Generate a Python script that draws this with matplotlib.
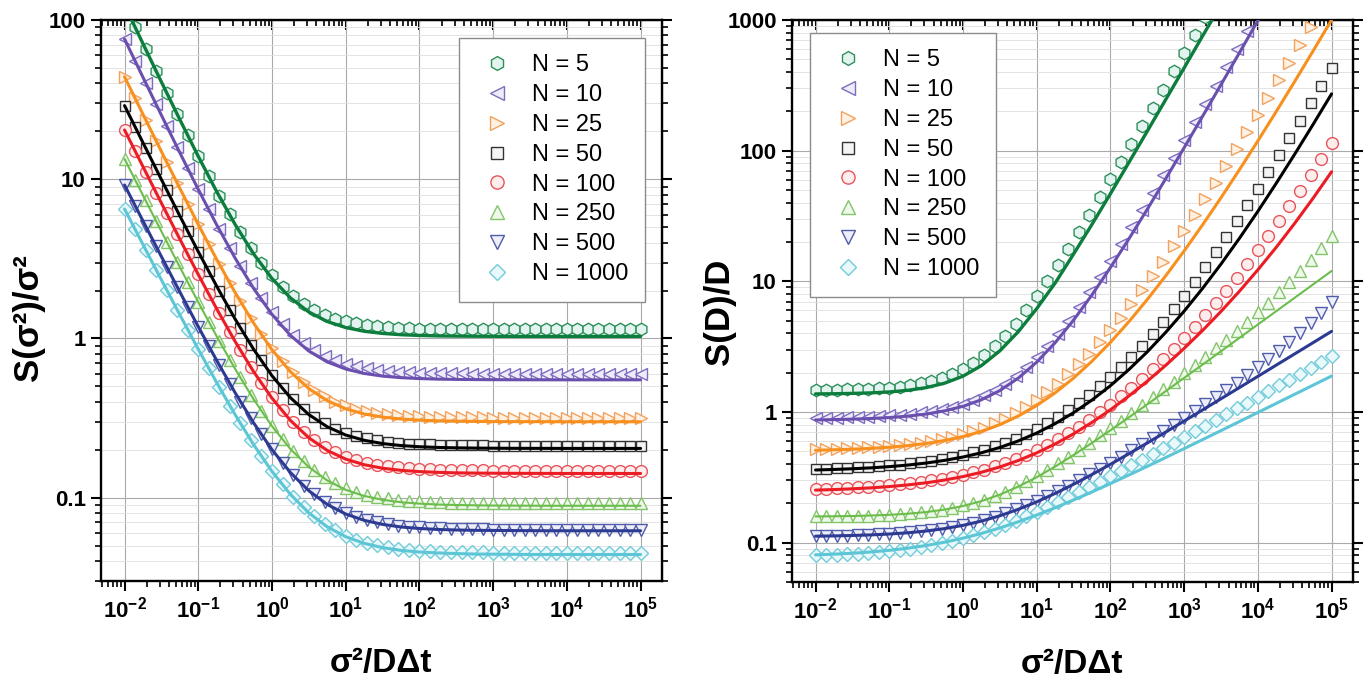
import numpy as np
import matplotlib
matplotlib.use("Agg")
import matplotlib.pyplot as plt
from matplotlib.lines import Line2D
from matplotlib.ticker import LogLocator, NullFormatter, FixedLocator

plt.rcParams['font.family'] = ['Liberation Sans', 'DejaVu Sans']
plt.rcParams['mathtext.fontset'] = 'custom'
plt.rcParams['mathtext.rm'] = 'Liberation Sans'
plt.rcParams['mathtext.bf'] = 'Liberation Sans:bold'

# ---------------- data ----------------
N_values = [5, 10, 25, 50, 100, 250, 500, 1000]
x_pts = np.logspace(-2, 5, 50)     # simulation sampling positions
x_fit = np.logspace(-2, 5, 29)     # theory curve sampling positions

# Left panel: S(sigma^2)/sigma^2 simulation points
sig_pts_N5 = [124.2, 90.3, 65.7, 47.9, 35.0, 25.7, 18.9, 14.03, 10.48, 7.90, 6.04, 4.69, 3.71, 3.00,
              2.49, 2.12, 1.85, 1.65, 1.51, 1.41, 1.335, 1.281, 1.242, 1.214, 1.194, 1.179, 1.168, 1.160,
              1.155, 1.151, 1.148, 1.146, 1.144, 1.143, 1.142, 1.142, 1.141, 1.141, 1.141, 1.140, 1.140, 1.140,
              1.14, 1.14, 1.14, 1.14, 1.14, 1.14, 1.14, 1.14]
sig_pts_N10 = [76.0, 55.4, 40.4, 29.5, 21.6, 15.9, 11.7, 8.68, 6.47, 4.87, 3.70, 2.855, 2.239, 1.791,
               1.466, 1.229, 1.058, 0.933, 0.842, 0.776, 0.728, 0.693, 0.667, 0.649, 0.636, 0.626, 0.619, 0.614,
               0.610, 0.607, 0.605, 0.604, 0.603, 0.602, 0.601, 0.600, 0.600, 0.600, 0.600, 0.600, 0.600, 0.600,
               0.600, 0.600, 0.600, 0.600, 0.600, 0.600, 0.600, 0.600]
sig_pts_N25 = [44.0, 32.3, 23.7, 17.4, 12.83, 9.48, 7.02, 5.22, 3.90, 2.94, 2.237, 1.722, 1.345, 1.069,
               0.868, 0.720, 0.612, 0.533, 0.476, 0.433, 0.402, 0.380, 0.363, 0.351, 0.342, 0.336, 0.331, 0.328,
               0.325, 0.323, 0.322, 0.321, 0.320, 0.3195, 0.319, 0.318, 0.318, 0.318, 0.318, 0.318, 0.318, 0.318,
               0.318, 0.318, 0.318, 0.318, 0.318, 0.318, 0.318, 0.318]
sig_pts_N50 = [29.0, 21.34, 15.72, 11.60, 8.57, 6.35, 4.715, 3.517, 2.638, 1.993, 1.519, 1.171, 0.916, 0.729,
               0.592, 0.491, 0.417, 0.362, 0.322, 0.293, 0.271, 0.256, 0.244, 0.236, 0.229, 0.225, 0.221, 0.219,
               0.217, 0.216, 0.215, 0.214, 0.2135, 0.213, 0.2128, 0.212, 0.212, 0.212, 0.212, 0.212, 0.212, 0.212,
               0.212, 0.212, 0.212, 0.212, 0.212, 0.212, 0.212, 0.212]
sig_pts_N100 = [20.4, 15.06, 11.13, 8.23, 6.10, 4.53, 3.378, 2.527, 1.900, 1.438, 1.098, 0.848, 0.663, 0.5275,
                0.4275, 0.354, 0.300, 0.260, 0.230, 0.2085, 0.1926, 0.181, 0.172, 0.166, 0.161, 0.158, 0.155, 0.153,
                0.152, 0.151, 0.150, 0.1495, 0.149, 0.1487, 0.1485, 0.148, 0.148, 0.148, 0.148, 0.148, 0.148, 0.148,
                0.148, 0.148, 0.148, 0.148, 0.148, 0.148, 0.148, 0.148]
sig_pts_N250 = [13.40, 9.925, 7.357, 5.46, 4.057, 3.022, 2.256, 1.692, 1.274, 0.965, 0.737, 0.569, 0.444, 0.352,
                0.284, 0.234, 0.197, 0.1696, 0.1493, 0.1343, 0.1233, 0.1151, 0.1091, 0.1046, 0.1013, 0.0989, 0.0971, 0.0958,
                0.0948, 0.0941, 0.0935, 0.0931, 0.0928, 0.0926, 0.0925, 0.092, 0.092, 0.092, 0.092, 0.092, 0.092, 0.092,
                0.092, 0.092, 0.092, 0.092, 0.092, 0.092, 0.092, 0.092]
sig_pts_N500 = [9.20, 6.836, 5.084, 3.785, 2.822, 2.109, 1.580, 1.187, 0.896, 0.681, 0.521, 0.402, 0.315, 0.250,
                0.2013, 0.1655, 0.139, 0.1193, 0.1048, 0.094, 0.086, 0.080, 0.0756, 0.0723, 0.0699, 0.0681, 0.0668, 0.0658,
                0.0651, 0.0645, 0.0641, 0.0639, 0.0636, 0.0635, 0.0633, 0.063, 0.063, 0.063, 0.063, 0.063, 0.063, 0.063,
                0.063, 0.063, 0.063, 0.063, 0.063, 0.063, 0.063, 0.063]
sig_pts_N1000 = [6.50, 4.846, 3.615, 2.700, 2.020, 1.514, 1.137, 0.858, 0.649, 0.4945, 0.379, 0.294, 0.230, 0.1825,
                 0.1473, 0.1211, 0.1016, 0.0871, 0.0763, 0.0683, 0.0623, 0.0579, 0.0546, 0.0521, 0.0503, 0.0489, 0.0479, 0.0472,
                 0.0466, 0.0462, 0.0459, 0.0457, 0.0455, 0.0454, 0.0453, 0.045, 0.045, 0.045, 0.045, 0.045, 0.045, 0.045,
                 0.045, 0.045, 0.045, 0.045, 0.045, 0.045, 0.045, 0.045]

# Left panel: theory curves
sig_fit_N5 = [124.1, 71.0, 40.8, 23.7, 13.92, 8.36, 5.20, 3.40, 2.379, 1.797, 1.4665, 1.278, 1.171, 1.110, 1.076,
              1.056, 1.045, 1.038, 1.035, 1.033, 1.032, 1.031, 1.030, 1.030, 1.030, 1.030, 1.030, 1.030, 1.030]
sig_fit_N10 = [75.95, 43.65, 25.25, 14.67, 8.63, 5.17, 3.195, 2.063, 1.416, 1.0455, 0.8334, 0.7122, 0.6428, 0.6031,
               0.5804, 0.5674, 0.560, 0.5557, 0.5533, 0.5519, 0.551, 0.5506, 0.5503, 0.5502, 0.55, 0.55, 0.55, 0.55, 0.55]
sig_fit_N25 = [43.98, 25.58, 14.93, 8.77, 5.20, 3.136, 1.9415, 1.25, 0.85, 0.6183, 0.4843, 0.4066, 0.3617, 0.3357,
               0.3207, 0.312, 0.3069, 0.304, 0.3023, 0.3013, 0.3008, 0.3005, 0.3003, 0.3002, 0.30, 0.30, 0.30, 0.30, 0.30]
sig_fit_N50 = [28.99, 16.96, 9.958, 5.881, 3.509, 2.128, 1.324, 0.856, 0.5835, 0.4249, 0.3326, 0.2788, 0.2476, 0.2294,
               0.2188, 0.2126, 0.209, 0.2069, 0.2057, 0.205, 0.2046, 0.2043, 0.2042, 0.2041, 0.204, 0.204, 0.204, 0.204, 0.204]
sig_fit_N100 = [20.39, 12.00, 7.084, 4.206, 2.521, 1.535, 0.9575, 0.6195, 0.4215, 0.3057, 0.2378, 0.1981, 0.1748, 0.1612,
                0.1532, 0.1486, 0.1459, 0.1443, 0.1433, 0.1428, 0.1425, 0.1423, 0.1422, 0.1421, 0.142, 0.142, 0.142, 0.142, 0.142]
sig_fit_N250 = [13.40, 7.926, 4.704, 2.807, 1.689, 1.031, 0.6437, 0.4157, 0.2813, 0.2022, 0.1557, 0.1283, 0.1121, 0.1026,
                0.097, 0.0937, 0.0918, 0.0906, 0.09, 0.0896, 0.0893, 0.0892, 0.0891, 0.089, 0.089, 0.089, 0.089, 0.089, 0.089]
sig_fit_N500 = [9.199, 5.473, 3.267, 1.960, 1.186, 0.7276, 0.4563, 0.2955, 0.2003, 0.1439, 0.1105, 0.0907, 0.079, 0.0721,
                0.068, 0.0655, 0.0641, 0.0632, 0.0627, 0.0624, 0.0623, 0.0622, 0.0621, 0.062, 0.062, 0.062, 0.062, 0.062, 0.062]
sig_fit_N1000 = [6.499, 3.889, 2.334, 1.408, 0.8567, 0.5281, 0.3323, 0.2157, 0.1463, 0.1049, 0.0803, 0.0656, 0.0569, 0.0517,
                 0.0486, 0.0467, 0.0456, 0.045, 0.0446, 0.0443, 0.0442, 0.0441, 0.044, 0.044, 0.044, 0.044, 0.044, 0.044, 0.044]

# Right panel: S(D)/D simulation points
D_pts_N5 = [1.477, 1.480, 1.484, 1.489, 1.497, 1.507, 1.521, 1.540, 1.566, 1.603, 1.653, 1.722, 1.817, 1.949,
            2.13, 2.379, 2.725, 3.198, 3.85, 4.748, 5.994, 7.70, 10.05, 13.32, 17.77, 23.91, 32.4, 44.2,
            60.3, 82.5, 113.3, 155.4, 213.6, 293.6, 404.7, 556.8, 766.4, 1057, 1455.5, 2006, 2766, 3808,
            5244, 7235, 9968, 13730, 18900, 26100, 35940, 49490]
D_pts_N10 = [0.9012, 0.9038, 0.9071, 0.9112, 0.9163, 0.9228, 0.9309, 0.9412, 0.9543, 0.9708, 0.9922, 1.0195, 1.0548, 1.1005,
             1.16, 1.2377, 1.3398, 1.4744, 1.6523, 1.889, 2.2046, 2.627, 3.194, 3.959, 4.993, 6.393, 8.296, 10.89,
             14.43, 19.26, 25.89, 34.98, 47.47, 64.66, 88.35, 120.99, 166.0, 228.3, 314.3, 433.1, 597.7, 825.6,
             1141, 1578, 2185, 3025, 4190, 5807, 8049, 11161]
D_pts_N25 = [0.5206, 0.5228, 0.5255, 0.5288, 0.5329, 0.5377, 0.5437, 0.5510, 0.5599, 0.5708, 0.5841, 0.6005, 0.6205, 0.6451,
             0.6755, 0.7130, 0.7595, 0.8174, 0.8896, 0.9797, 1.0928, 1.2353, 1.4156, 1.6445, 1.9368, 2.3108, 2.7938, 3.417,
             4.228, 5.288, 6.679, 8.511, 10.94, 14.17, 18.48, 24.25, 32.03, 42.51, 56.7, 75.98, 102.2, 138.0,
             186.9, 253.9, 345.7, 471.9, 645.5, 884.7, 1215, 1670]
D_pts_N50 = [0.3660, 0.3680, 0.3704, 0.3731, 0.3764, 0.3802, 0.3848, 0.3902, 0.3965, 0.4041, 0.4130, 0.4236, 0.4362, 0.4512,
             0.4690, 0.4902, 0.5154, 0.5458, 0.5821, 0.6258, 0.6785, 0.7424, 0.8199, 0.9146, 1.0307, 1.1738, 1.3513, 1.5725,
             1.85, 2.201, 2.646, 3.217, 3.951, 4.904, 6.149, 7.784, 9.944, 12.81, 16.65, 21.79, 28.73, 38.12,
             50.86, 68.21, 91.9, 124.3, 168.8, 230.0, 314.2, 430.1]
D_pts_N100 = [0.2580, 0.2594, 0.2611, 0.2631, 0.2655, 0.2683, 0.2715, 0.2754, 0.2799, 0.2853, 0.2917, 0.2992, 0.3080, 0.3185,
              0.3309, 0.3456, 0.3629, 0.3834, 0.4079, 0.4368, 0.4711, 0.512, 0.5607, 0.6189, 0.6885, 0.772, 0.8724, 0.9935,
              1.14, 1.318, 1.536, 1.801, 2.131, 2.537, 3.044, 3.68, 4.483, 5.503, 6.808, 8.489, 10.67, 13.51,
              17.25, 22.19, 28.75, 37.49, 49.25, 65.08, 86.48, 115.5]
D_pts_N250 = [0.1589, 0.1591, 0.1595, 0.1600, 0.1606, 0.1613, 0.1624, 0.1637, 0.1654, 0.1676, 0.1705, 0.1742, 0.1789, 0.1849,
              0.1926, 0.2021, 0.2139, 0.2285, 0.2463, 0.2677, 0.294, 0.3249, 0.3615, 0.4045, 0.4549, 0.5138, 0.5822, 0.6615,
              0.7537, 0.8604, 0.984, 1.1273, 1.2933, 1.4875, 1.7116, 1.9746, 2.2819, 2.6442, 3.0728, 3.5798, 4.1875, 4.9179,
              5.8047, 6.8877, 8.221, 9.88, 11.964, 14.605, 17.978, 22.342]
D_pts_N500 = [0.1122, 0.1125, 0.1129, 0.1133, 0.1139, 0.1147, 0.1156, 0.1167, 0.1182, 0.1199, 0.1221, 0.1247, 0.1280, 0.1320,
              0.1368, 0.1426, 0.1497, 0.1581, 0.1679, 0.1795, 0.1931, 0.2089, 0.2272, 0.2484, 0.2725, 0.301, 0.3327, 0.3689,
              0.4099, 0.4566, 0.5093, 0.5691, 0.637, 0.7139, 0.8014, 0.9013, 1.015, 1.1458, 1.2954, 1.4711, 1.6739, 1.9108,
              2.1923, 2.5282, 2.9317, 3.4245, 4.0304, 4.7853, 5.7356, 6.9488]
D_pts_N1000 = [0.0801, 0.0805, 0.0811, 0.0817, 0.0826, 0.0836, 0.0848, 0.0862, 0.0880, 0.0901, 0.0926, 0.0956, 0.0991, 0.1033,
               0.1082, 0.1139, 0.1206, 0.1283, 0.1371, 0.1473, 0.1588, 0.1719, 0.1867, 0.2034, 0.2221, 0.2432, 0.2667, 0.2930,
               0.3223, 0.3549, 0.3913, 0.4317, 0.4765, 0.5264, 0.5818, 0.6430, 0.7112, 0.7869, 0.8705, 0.9632, 1.0659, 1.1795,
               1.3062, 1.445, 1.600, 1.7717, 1.9616, 2.1714, 2.4042, 2.6621]

# Right panel: theory curves
D_fit_N5 = [1.376, 1.380, 1.388, 1.401, 1.424, 1.465, 1.536, 1.661, 1.88, 2.265, 2.937, 4.115, 6.18, 9.69, 16.16,
            27.3, 46.8, 81.1, 141, 246, 430, 754, 1312, 2311, 4052, 7106, 12450, 21800, 38245]
D_fit_N10 = [0.870, 0.875, 0.882, 0.892, 0.907, 0.930, 0.965, 1.020, 1.105, 1.241, 1.459, 1.817, 2.407, 3.39, 5.05,
             7.88, 12.74, 21.1, 35.6, 61.0, 105.3, 183.2, 320.2, 561.6, 988.6, 1743, 3080, 5449, 9651]
D_fit_N25 = [0.5098, 0.5137, 0.5192, 0.5269, 0.5377, 0.5530, 0.5746, 0.6053, 0.6489, 0.7113, 0.8011, 0.9312, 1.121, 1.402,
             1.819, 2.45, 3.413, 4.907, 7.259, 11.02, 17.09, 27.06, 43.64, 71.5, 118.75, 199.6, 338.9, 580.6, 1001.7]
D_fit_N50 = [0.3600, 0.3634, 0.3679, 0.3738, 0.3819, 0.3926, 0.4070, 0.4264, 0.4524, 0.4877, 0.5354, 0.6006, 0.6902, 0.8144,
             0.9882, 1.235, 1.59, 2.111, 2.887, 4.071, 5.912, 8.835, 13.56, 21.35, 34.35, 56.37, 94.03, 159.1, 272.0]
D_fit_N100 = [0.2525, 0.2550, 0.2584, 0.2628, 0.2688, 0.2767, 0.2873, 0.3015, 0.3205, 0.3458, 0.3798, 0.4253, 0.4867, 0.5693,
              0.6809, 0.8327, 1.04, 1.325, 1.721, 2.276, 3.067, 4.208, 5.885, 8.399, 12.25, 18.25, 27.82, 43.33, 68.97]
D_fit_N250 = [0.1588, 0.1593, 0.1601, 0.1614, 0.1634, 0.1666, 0.1715, 0.1792, 0.1908, 0.2081, 0.2332, 0.2686, 0.3171, 0.3824,
              0.4685, 0.5802, 0.7244, 0.9090, 1.144, 1.444, 1.824, 2.305, 2.918, 3.691, 4.674, 5.916, 7.489, 9.482, 12.0]
D_fit_N500 = [0.1121, 0.1127, 0.1135, 0.1147, 0.1165, 0.1190, 0.1228, 0.1281, 0.1357, 0.1462, 0.1606, 0.1799, 0.2052, 0.2381,
              0.2799, 0.3324, 0.3978, 0.4791, 0.5792, 0.7022, 0.8528, 1.037, 1.263, 1.538, 1.874, 2.286, 2.786, 3.397, 4.143]
D_fit_N1000 = [0.0807, 0.0817, 0.0830, 0.0849, 0.0874, 0.0907, 0.0951, 0.1008, 0.1082, 0.1177, 0.1296, 0.1445, 0.1628, 0.1851,
               0.2122, 0.2446, 0.2833, 0.3294, 0.3839, 0.4484, 0.5248, 0.6146, 0.7205, 0.8451, 0.9916, 1.1645, 1.367, 1.606, 1.8855]

x_tick_values = [1e-2, 1e-1, 1e0, 1e1, 1e2, 1e3, 1e4, 1e5]
x_tick_labels = [r'$\mathbf{10^{-2}}$', r'$\mathbf{10^{-1}}$', r'$\mathbf{10^{0}}$', r'$\mathbf{10^{1}}$',
                 r'$\mathbf{10^{2}}$', r'$\mathbf{10^{3}}$', r'$\mathbf{10^{4}}$', r'$\mathbf{10^{5}}$']
left_y_ticks = [0.1, 1, 10, 100]
left_y_labels = ['0.1', '1', '10', '100']
right_y_ticks = [0.1, 1, 10, 100, 1000]
right_y_labels = ['0.1', '1', '10', '100', '1000']

# ---------------- styles ----------------
markers = ['h', '<', '>', 's', 'o', '^', 'v', 'D']
msizes = [9, 9, 9, 7.5, 8.5, 9, 9, 7]
line_colors = ['#0c7d3c', '#6a4fae', '#f7901e', '#000000', '#ec1c24', '#6bbd4c', '#2d3a92', '#5cc6d6']
edge_colors = ['#2e8f5a', '#7e6cc0', '#f2a25e', '#333333', '#e8545c', '#82c56a', '#4f5cab', '#72cbd9']
face_colors = ['#e3f4f0', '#efecf9', '#fdf1e4', '#f4f4f4', '#fdeeee', '#eff8eb', '#edeef8', '#e9f8fa']
line_widths = [2.4, 2.2, 2.2, 2.2, 2.2, 1.5, 2.2, 2.2]

sig_pts = [sig_pts_N5, sig_pts_N10, sig_pts_N25, sig_pts_N50, sig_pts_N100, sig_pts_N250, sig_pts_N500, sig_pts_N1000]
sig_fit = [sig_fit_N5, sig_fit_N10, sig_fit_N25, sig_fit_N50, sig_fit_N100, sig_fit_N250, sig_fit_N500, sig_fit_N1000]
D_pts = [D_pts_N5, D_pts_N10, D_pts_N25, D_pts_N50, D_pts_N100, D_pts_N250, D_pts_N500, D_pts_N1000]
D_fit = [D_fit_N5, D_fit_N10, D_fit_N25, D_fit_N50, D_fit_N100, D_fit_N250, D_fit_N500, D_fit_N1000]

fig = plt.figure(figsize=(13.68, 6.9), dpi=100)
axL = fig.add_axes([0.0738, 0.158, 0.4101, 0.813])
axR = fig.add_axes([0.5789, 0.1565, 0.4101, 0.8145])


def style_axes(ax, ylim, yticks, ylabels, ylabel, ylab_y):
    ax.set_xscale('log')
    ax.set_yscale('log')
    ax.set_xlim(10 ** -2.32, 10 ** 5.29)
    ax.set_ylim(*ylim)
    ax.xaxis.set_major_locator(FixedLocator(x_tick_values))
    ax.set_xticklabels(x_tick_labels)
    ax.xaxis.set_minor_locator(LogLocator(base=10, subs=np.arange(2, 10), numticks=30))
    ax.xaxis.set_minor_formatter(NullFormatter())
    ax.yaxis.set_major_locator(FixedLocator(yticks))
    ax.set_yticklabels(ylabels, fontweight='bold')
    ax.yaxis.set_minor_locator(LogLocator(base=10, subs=np.arange(2, 10), numticks=30))
    ax.yaxis.set_minor_formatter(NullFormatter())
    ax.tick_params(which='major', direction='out', length=7, width=1.5, labelsize=16, pad=4)
    ax.tick_params(which='minor', direction='out', length=4, width=1.2)
    ax.tick_params(top=False, right=False)
    for lab in ax.get_yticklabels():
        lab.set_fontweight('bold')
    for s in ax.spines.values():
        s.set_linewidth(1.7)
    ax.grid(True, which='major', color='#a9a9a9', lw=0.8)
    ax.yaxis.grid(True, which='minor', color='#dedede', lw=0.6)
    ax.xaxis.grid(False, which='minor')
    ax.set_axisbelow(True)
    # mirrored ticks on top and right
    top = ax.secondary_xaxis('top')
    top.xaxis.set_major_locator(FixedLocator(x_tick_values))
    top.xaxis.set_minor_locator(LogLocator(base=10, subs=np.arange(2, 10), numticks=30))
    top.xaxis.set_major_formatter(NullFormatter())
    top.xaxis.set_minor_formatter(NullFormatter())
    top.tick_params(which='major', direction='in', length=7, width=1.5)
    top.tick_params(which='minor', direction='in', length=4, width=1.2)
    right = ax.secondary_yaxis('right')
    right.yaxis.set_major_locator(FixedLocator(yticks))
    right.yaxis.set_minor_locator(LogLocator(base=10, subs=np.arange(2, 10), numticks=30))
    right.yaxis.set_major_formatter(NullFormatter())
    right.yaxis.set_minor_formatter(NullFormatter())
    right.tick_params(which='major', direction='out', length=7, width=1.5)
    right.tick_params(which='minor', direction='out', length=4, width=1.2)
    ax.set_xlabel('σ²/DΔt', fontsize=24, fontweight='bold')
    ax.xaxis.set_label_coords(0.5, -0.12)
    ax.set_ylabel(ylabel, fontsize=25, fontweight='bold')
    ax.yaxis.set_label_coords(-0.10, ylab_y)


for k in range(len(N_values)):
    axL.plot(x_pts, sig_pts[k], ls='none', marker=markers[k], ms=msizes[k], mfc=face_colors[k],
             mec=edge_colors[k], mew=1.0, zorder=3)
    axL.plot(x_fit, sig_fit[k], color=line_colors[k], lw=line_widths[k], zorder=4, solid_capstyle='round')
    axR.plot(x_pts, D_pts[k], ls='none', marker=markers[k], ms=msizes[k], mfc=face_colors[k],
             mec=edge_colors[k], mew=1.0, zorder=3)
    axR.plot(x_fit, D_fit[k], color=line_colors[k], lw=line_widths[k], zorder=4, solid_capstyle='round')

style_axes(axL, (0.03, 100), left_y_ticks, left_y_labels, 'S(σ²)/σ²', 0.47)
style_axes(axR, (0.05, 1000), right_y_ticks, right_y_labels, 'S(D)/D', 0.48)

handles = [Line2D([], [], ls='none', marker=markers[k], ms=msizes[k] + 1, mfc=face_colors[k],
                  mec=edge_colors[k], mew=1.0) for k in range(len(N_values))]
labels = ['N = %d' % n for n in N_values]

for ax, loc, anchor in [(axL, 'upper right', (0.970, 0.968)), (axR, 'upper left', (0.032, 0.977))]:
    leg = ax.legend(handles, labels, loc=loc, bbox_to_anchor=anchor, fontsize=17, frameon=True,
                    fancybox=False, edgecolor='#8c8c8c', framealpha=1.0, labelspacing=0.33,
                    handletextpad=0.6, borderpad=0.7, handlelength=1.8, borderaxespad=0.0)
    leg.get_frame().set_linewidth(1.0)
    leg.set_zorder(10)

fig.savefig('out.png', dpi=100)
